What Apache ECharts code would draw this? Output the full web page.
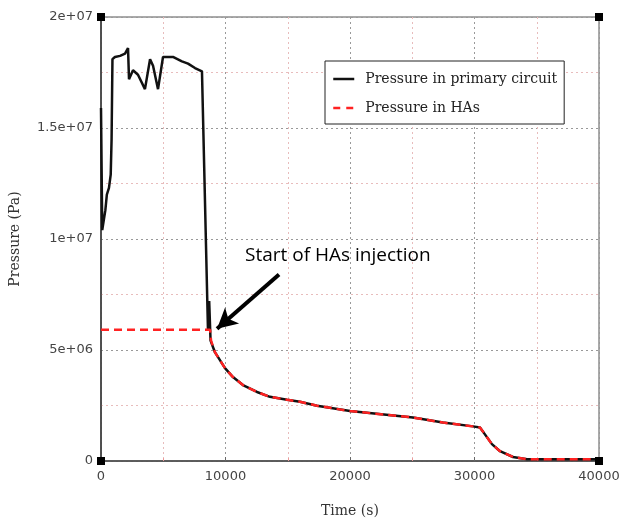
<!DOCTYPE html>
<html>
<head>
<meta charset="utf-8">
<script src="https://cdn.jsdelivr.net/npm/echarts@6/dist/echarts.min.js"></script>
<style>
html,body{margin:0;padding:0;background:#fff;}
#chart{width:632px;height:523px;}
</style>
</head>
<body>
<div id="chart"></div>
<script>
// ---- Data (time in s, pressure in Pa) ----
const primaryTime = [0,100,200,350,470,640,780,850,920,1120,1530,1930,2170,2250,2570,2970,3530,3940,4180,4580,4980,5780,6500,6990,7550,8110,8590,8690,8800,8840,9160,9960,10600,11400,12530,13570,14940,15980,17350,20000,25060,27470,29880,30440,30840,31400,32050,33090,34220,40000];
const primaryPressure = [15.9e6,10.4e6,10.4e6,11.3e6,12.0e6,12.3e6,12.9e6,14.5e6,18.1e6,18.2e6,18.25e6,18.35e6,18.6e6,17.2e6,17.6e6,17.4e6,16.75e6,18.1e6,17.8e6,16.75e6,18.2e6,18.2e6,18.0e6,17.9e6,17.7e6,17.55e6,5.95e6,7.2e6,5.42e6,5.42e6,4.89e6,4.18e6,3.78e6,3.42e6,3.11e6,2.89e6,2.76e6,2.67e6,2.49e6,2.25e6,1.96e6,1.73e6,1.56e6,1.51e6,1.2e6,0.76e6,0.44e6,0.18e6,0.08e6,0.08e6];
const hasTime = [0,8760,8840,9160,9960,10600,11400,12530,13570,14940,15980,17350,20000,25060,27470,29880,30440,30840,31400,32050,33090,34220,40000];
const hasPressure = [5.91e6,5.91e6,5.42e6,4.89e6,4.18e6,3.78e6,3.42e6,3.11e6,2.89e6,2.76e6,2.67e6,2.49e6,2.25e6,1.96e6,1.73e6,1.56e6,1.51e6,1.2e6,0.76e6,0.44e6,0.18e6,0.08e6,0.08e6];
const seriesNames = ['Pressure in primary circuit','Pressure in HAs'];
const xExtent = [0, 40000];
const yExtent = [0, 2e7];
const xTicks = [0,10000,20000,30000,40000];
const yTicks = ['0','5e+06','1e+07','1.5e+07','2e+07'];
const annotationText = 'Start of HAs injection';
const arrowFrom = [14300, 8.4e6];
const arrowTo = [9320, 5.96e6];

const zip = (a,b) => a.map((v,i)=>[v,b[i]]);
const corners = [[xExtent[0],yExtent[0]],[xExtent[0],yExtent[1]],[xExtent[1],yExtent[0]],[xExtent[1],yExtent[1]]];

function yFmt(v){
  if (v === 0) return '0';
  let s = v.toExponential().replace('+','');
  let [m,e] = s.split('e');
  let en = parseInt(e,10);
  return m + 'e' + (en<0?'-':'+') + String(Math.abs(en)).padStart(2,'0');
}

const chart = echarts.init(document.getElementById('chart'), null, {renderer:'canvas'});
const serif = 'DejaVu Serif';
const sans = 'DejaVu Sans';
chart.setOption({
  animation:false,
  backgroundColor:'#fff',
  grid:{left:101,right:33,top:17,bottom:56,show:true,borderColor:'#555',borderWidth:1},
  legend:{
    data:[
      {name:seriesNames[0], lineStyle:{color:'#111',width:2.5,type:'solid'}},
      {name:seriesNames[1], lineStyle:{color:'#f22',width:2.5,type:[7,6]}}
    ],
    orient:'vertical',
    left:325, top:61,
    padding:[11,7,9,7],
    itemWidth:21, itemHeight:14, itemGap:15,
    itemStyle:{opacity:0},
    backgroundColor:'#fff',
    borderColor:'#222', borderWidth:1,
    textStyle:{fontFamily:serif,fontSize:14,color:'#222',padding:[0,0,0,6]}
  },
  xAxis:{
    type:'value', min:xExtent[0], max:xExtent[1], interval:10000,
    name:'Time (s)', nameLocation:'middle', nameGap:43,
    nameTextStyle:{fontFamily:serif,fontSize:14,color:'#333'},
    axisLine:{show:true,onZero:false,lineStyle:{color:'#444',width:1.5}},
    axisTick:{show:true,inside:true,length:4,lineStyle:{color:'#666'}},
    minorTick:{show:true,splitNumber:2,length:3,lineStyle:{color:'#e99'}},
    axisLabel:{fontFamily:sans,fontSize:13,color:'#444',margin:9,formatter:v=>String(v)},
    splitLine:{show:true,lineStyle:{color:'#999',type:[2,3],width:1}},
    minorSplitLine:{show:true,lineStyle:{color:'#e8bcbc',type:[2,3],width:1}}
  },
  yAxis:{
    type:'value', min:yExtent[0], max:yExtent[1], interval:5e6,
    name:'Pressure (Pa)', nameLocation:'middle', nameGap:79,
    nameTextStyle:{fontFamily:serif,fontSize:14,color:'#333'},
    axisLine:{show:true,onZero:false,lineStyle:{color:'#333',width:1.5}},
    axisTick:{show:false},
    minorTick:{show:false,splitNumber:2},
    axisLabel:{fontFamily:sans,fontSize:13,color:'#444',margin:8,formatter:v=>yFmt(v)},
    splitLine:{show:true,lineStyle:{color:'#999',type:[2,3],width:1}},
    minorSplitLine:{show:true,lineStyle:{color:'#e8bcbc',type:[2,3],width:1}}
  },
  series:[
    {
      name:seriesNames[0], type:'line', data:zip(primaryTime,primaryPressure),
      showSymbol:false, symbol:'none', color:'#111',
      lineStyle:{color:'#111',width:2.5},
      markLine:{
        silent:true, symbol:['none','arrow'], symbolSize:[16,20],
        label:{show:false},
        lineStyle:{color:'#000',width:4,type:'solid'},
        data:[[{coord:arrowFrom},{coord:arrowTo}]]
      }
    },
    {
      name:seriesNames[1], type:'line', data:zip(hasTime,hasPressure),
      showSymbol:false, symbol:'none', color:'#f22',
      lineStyle:{color:'#f22',width:2.5,type:[8,5]}
    },
    {
      name:'corners', type:'scatter', data:corners, symbol:'rect', symbolSize:8,
      itemStyle:{color:'#000',opacity:1}, clip:false, silent:true, z:10
    }
  ],
  graphic:[
    {type:'text', left:245, top:246, style:{text:annotationText, font:'19px "Open Sans"', fill:'#000'}}
  ]
});
</script>
</body>
</html>
